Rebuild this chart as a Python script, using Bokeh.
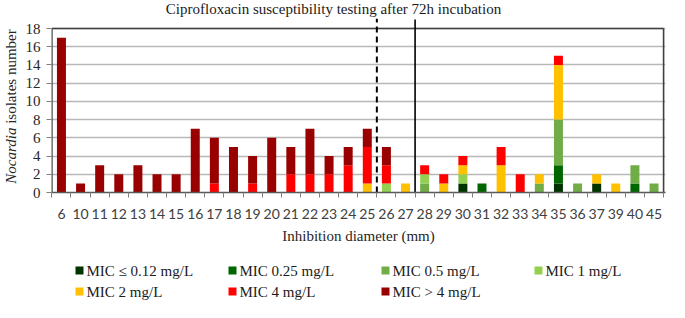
from bokeh.plotting import figure
from bokeh.models import Range1d, FixedTicker, ColumnDataSource, Div
from bokeh.layouts import column, row
from bokeh.core.properties import value
from bokeh.embed import file_html
from bokeh.resources import INLINE

# ---------------- data ----------------
diameters = ["6", "10", "11", "12", "13", "14", "15", "16", "17", "18", "19", "20",
             "21", "22", "23", "24", "25", "26", "27", "28", "29", "30", "31", "32",
             "33", "34", "35", "36", "37", "39", "40", "45"]
mic_le012 = [0, 0, 0, 0, 0, 0, 0, 0, 0, 0, 0, 0, 0, 0, 0, 0, 0, 0, 0, 0, 0, 1, 0, 0, 0, 0, 1, 0, 1, 0, 0, 0]
mic_025 =   [0, 0, 0, 0, 0, 0, 0, 0, 0, 0, 0, 0, 0, 0, 0, 0, 0, 0, 0, 0, 0, 0, 1, 0, 0, 0, 2, 0, 0, 0, 1, 0]
mic_05 =    [0, 0, 0, 0, 0, 0, 0, 0, 0, 0, 0, 0, 0, 0, 0, 0, 0, 0, 0, 1, 0, 0, 0, 0, 0, 1, 5, 1, 0, 0, 2, 1]
mic_1 =     [0, 0, 0, 0, 0, 0, 0, 0, 0, 0, 0, 0, 0, 0, 0, 0, 0, 1, 0, 1, 0, 1, 0, 0, 0, 0, 0, 0, 0, 0, 0, 0]
mic_2 =     [0, 0, 0, 0, 0, 0, 0, 0, 0, 0, 0, 0, 0, 0, 0, 0, 1, 0, 1, 0, 1, 1, 0, 3, 0, 1, 6, 0, 1, 1, 0, 0]
mic_4 =     [0, 0, 0, 0, 0, 0, 0, 0, 1, 0, 1, 0, 2, 2, 2, 3, 4, 2, 0, 1, 1, 1, 0, 2, 2, 0, 1, 0, 0, 0, 0, 0]
mic_gt4 =   [17, 1, 3, 2, 3, 2, 2, 7, 5, 5, 3, 6, 3, 5, 2, 2, 2, 2, 0, 0, 0, 0, 0, 0, 0, 0, 0, 0, 0, 0, 0, 0]

series_keys = ["le012", "s025", "s05", "s1", "s2", "s4", "gt4"]
series_labels = ["MIC \u2264 0.12 mg/L", "MIC 0.25 mg/L", "MIC 0.5 mg/L", "MIC 1 mg/L",
                 "MIC 2 mg/L", "MIC 4 mg/L", "MIC > 4 mg/L"]
series_colors = ["#003300", "#006600", "#70AD47", "#92D050", "#FFC000", "#FF0000", "#990000"]
y_ticks = [0, 2, 4, 6, 8, 10, 12, 14, 16, 18]

title_text = "Ciprofloxacin susceptibility testing after 72h incubation"
y_title_italic = "Nocardia"
y_title_rest = "isolates number"
x_title = "Inhibition diameter (mm)"
dashed_after = "25"   # dashed separator between 25 and 26
solid_after = "27"    # solid separator between 27 and 28

SERIF = "'Liberation Serif', 'Times New Roman', serif"
SANS = "Lato"

W = 669
TITLE_H = 18
MAIN_H = 232
LEG_H = 52
YLAB_W = 22


def blank(width, height):
    f = figure(width=width, height=height, output_backend="svg", toolbar_location=None,
               x_range=Range1d(0, width), y_range=Range1d(0, height),
               min_border=0, min_border_left=0, min_border_right=0,
               min_border_top=0, min_border_bottom=0)
    f.axis.visible = False
    f.grid.visible = False
    f.outline_line_color = None
    return f


n = len(diameters)
xs = list(range(n))
src = ColumnDataSource(dict(x=xs, le012=mic_le012, s025=mic_025, s05=mic_05, s1=mic_1,
                            s2=mic_2, s4=mic_4, gt4=mic_gt4))

ymax = max(y_ticks)
p = figure(width=W - YLAB_W, height=MAIN_H, output_backend="svg", toolbar_location=None,
           x_range=Range1d(-0.52, n - 0.4), y_range=Range1d(0, ymax + 1.1),
           min_border_left=27, min_border_right=4, min_border_top=0, min_border_bottom=58)
p.outline_line_color = None
p.xgrid.visible = False

p.ygrid.ticker = FixedTicker(ticks=y_ticks)
p.ygrid.grid_line_color = "#b8b8b8"
p.ygrid.grid_line_width = 1.4

p.vbar_stack(series_keys, x="x", width=0.47, source=src,
             fill_color=series_colors, line_color=None)

# frame borders (top, left, right)
p.segment(x0=[-0.5, -0.5, n - 0.5], y0=[ymax, 0, 0], x1=[n - 0.5, -0.5, n - 0.5], y1=[ymax, ymax, ymax],
          line_color="#404040", line_width=1.6)

# separators
xd = diameters.index(dashed_after) + 0.5
xsol = diameters.index(solid_after) + 0.5
p.segment(x0=[xd], y0=[0], x1=[xd], y1=[ymax + 1.1], line_color="black", line_width=2,
          line_dash="6 4")
p.segment(x0=[xsol], y0=[0], x1=[xsol], y1=[ymax + 1.0], line_color="black", line_width=1.6)

# x axis
xa = p.xaxis[0]
xa.ticker = FixedTicker(ticks=xs, minor_ticks=[i - 0.5 for i in range(n + 1)])
xa.major_label_overrides = {i: d for i, d in enumerate(diameters)}
xa.major_tick_line_color = None
xa.major_tick_out = 0
xa.minor_tick_out = 5
xa.minor_tick_in = 0
xa.minor_tick_line_color = "#7f7f7f"
xa.axis_line_color = "#595959"
xa.axis_line_width = 1.4
xa.major_label_text_font = SANS
xa.major_label_text_font_size = "14px"
xa.major_label_text_color = "#404040"
xa.major_label_standoff = 11
xa.axis_label = x_title
xa.axis_label_text_font = SERIF
xa.axis_label_text_font_size = "15px"
xa.axis_label_text_font_style = "normal"
xa.axis_label_text_color = "#262626"
xa.axis_label_standoff = 6

# y axis
ya = p.yaxis[0]
ya.ticker = FixedTicker(ticks=y_ticks)
ya.axis_line_color = None
ya.major_tick_out = 5
ya.major_tick_in = 0
ya.major_tick_line_color = "#7f7f7f"
ya.minor_tick_line_color = None
ya.major_label_text_font = SERIF
ya.major_label_text_font_size = "15px"
ya.major_label_text_color = "#262626"
ya.major_label_standoff = 6

# ---------------- title ----------------
tf = blank(W, TITLE_H)
tf.text(x=[333], y=[TITLE_H - 8], text=[title_text], text_align="center", text_baseline="middle",
        text_font=value(SERIF), text_font_size="15px", text_color="#1a1a1a")

# ---------------- y title (rotated HTML text, mixed italic) ----------------
ylab_html = (
    f'<div style="width:{YLAB_W}px;height:176px;margin:0;padding:0;display:flex;'
    f'align-items:center;justify-content:center;">'
    f'<span style="display:inline-block;white-space:nowrap;transform:rotate(-90deg);'
    f'font-family:{SERIF};font-size:15px;line-height:1;color:#262626;">'
    f'<i>{y_title_italic}</i> {y_title_rest}</span></div>'
)
yf = Div(text=ylab_html, width=YLAB_W, height=MAIN_H, margin=0,
         styles={"margin": "0", "padding": "0", "overflow": "visible"})

# ---------------- legend ----------------
lg = blank(W, LEG_H)
col_x = [79, 232, 385, 538]
row_y = [32, 11]
sx = [col_x[i % 4] for i in range(len(series_labels))]
sy = [row_y[i // 4] for i in range(len(series_labels))]
lg.rect(x=sx, y=sy, width=8, height=8, fill_color=series_colors, line_color=None)
lg.text(x=[v + 7 for v in sx], y=sy, text=series_labels, text_font=value(SERIF),
        text_font_size="15px", text_baseline="middle", text_align="left", text_color="#1a1a1a")

layout = column(tf, row(yf, p, spacing=0), lg, spacing=0)
open("out.html", "w").write(file_html(layout, INLINE))
